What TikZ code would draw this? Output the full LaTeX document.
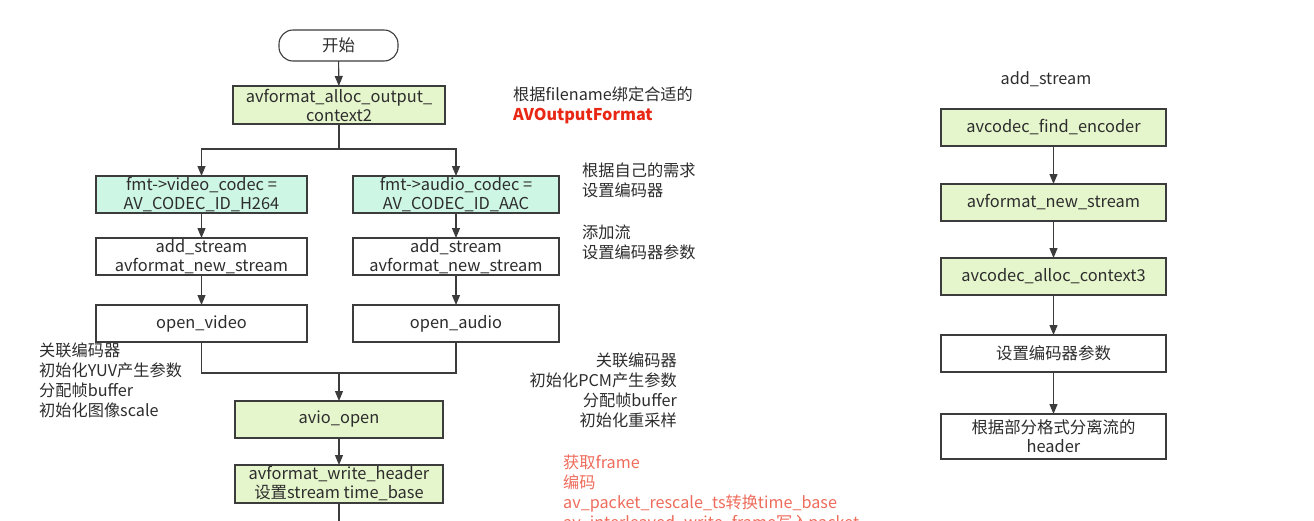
\documentclass[tikz,border=0pt]{standalone}
\usepackage{fontspec}
\setmainfont{Noto Sans CJK SC}
\usetikzlibrary{arrows.meta}
\definecolor{boxgreen}{RGB}{230,246,204}
\definecolor{boxmint}{RGB}{206,246,228}
\definecolor{edge}{RGB}{60,60,60}
\definecolor{txt}{RGB}{45,45,45}
\definecolor{redtxt}{RGB}{232,40,20}
\definecolor{salmon}{RGB}{238,108,92}
\tikzset{
  base/.style={draw=edge, line width=1.1pt, inner sep=0pt, outer sep=0pt, align=center,
    text=txt, font=\fontsize{16.4}{19}\selectfont},
  gbox/.style={base, fill=boxgreen},
  mbox/.style={base, fill=boxmint},
  wbox/.style={base, fill=white},
  note/.style={inner sep=0pt, text=txt, font=\fontsize{16.2}{20}\selectfont},
  conn/.style={draw=edge, line width=1.1pt},
  arr/.style={conn, -{Triangle[length=10pt,width=8pt]}},
}
\begin{document}
\begin{tikzpicture}[x=1pt,y=-1pt]
\useasboundingbox (0,0) rectangle (1314,520);
\clip (0,0) rectangle (1314,520);
\fill[white] (0,0) rectangle (1314,520);

% left flow
\node[wbox, rounded corners=14pt, minimum width=119pt, minimum height=31pt] (start) at (338.5,45.5) {开始};
\node[gbox, minimum width=212pt, minimum height=38pt] (alloc) at (339,105) {avformat\_alloc\_output\_\\context2};
\node[mbox, minimum width=211pt, minimum height=37pt] (vcodec) at (201.5,194.5) {fmt->video\_codec =\\AV\_CODEC\_ID\_H264};
\node[mbox, minimum width=206pt, minimum height=37pt] (acodec) at (456,194.5) {fmt->audio\_codec =\\AV\_CODEC\_ID\_AAC};
\node[wbox, minimum width=211pt, minimum height=37pt] (vadd) at (201.5,256.5) {add\_stream\\avformat\_new\_stream};
\node[wbox, minimum width=206pt, minimum height=37pt] (aadd) at (456,256.5) {add\_stream\\avformat\_new\_stream};
\node[wbox, minimum width=211pt, minimum height=37pt] (vopen) at (201.5,323.5) {open\_video};
\node[wbox, minimum width=206pt, minimum height=37pt] (aopen) at (456,323.5) {open\_audio};
\node[gbox, minimum width=208pt, minimum height=37pt] (avio) at (339,419.5) {avio\_open};
\node[gbox, minimum width=208pt, minimum height=38pt] (header) at (339,484) {avformat\_write\_header\\设置stream time\_base};

\coordinate (split) at (339,149);
\coordinate (join) at (339,373);
\coordinate (tail) at (339,530);

\draw[arr] (start) -- (alloc);
\draw[conn] (alloc) -- (split);
\draw[arr] (split) -| (vcodec);
\draw[arr] (split) -| (acodec);
\draw[arr] (vcodec) -- (vadd);
\draw[arr] (acodec) -- (aadd);
\draw[arr] (vadd) -- (vopen);
\draw[arr] (aadd) -- (aopen);
\draw[conn] (vopen) |- (join);
\draw[conn] (aopen) |- (join);
\draw[arr] (join) -- (avio);
\draw[arr] (avio) -- (header);
\draw[conn] (header) -- (tail);

% notes
\node[note, anchor=north west, align=left] (n1) at (513,87) {根据filename绑定合适的\\\textcolor{redtxt}{\bfseries AVOutputFormat}};
\node[note, anchor=north west, align=left] (n2) at (582,163) {根据自己的需求\\设置编码器};
\node[note, anchor=north west, align=left] (n3) at (582,225) {添加流\\设置编码器参数};
\node[note, anchor=north west, align=left] (n4) at (39,343) {关联编码器\\初始化YUV产生参数\\分配帧buffer\\初始化图像scale};
\node[note, anchor=north east, align=right] (n5) at (677,353) {关联编码器\\初始化PCM产生参数\\分配帧buffer\\初始化重采样};
\node[note, anchor=north west, align=left, text=salmon] (n6) at (563,455) {获取frame\\编码\\av\_packet\_rescale\_ts转换time\_base\\av\_interleaved\_write\_frame写入packet};

% right column
\node[note] (title) at (1046,79) {add\_stream};
\node[gbox, minimum width=225pt, minimum height=37pt] (r1) at (1053.5,127.5) {avcodec\_find\_encoder};
\node[gbox, minimum width=225pt, minimum height=37pt] (r2) at (1053.5,202.5) {avformat\_new\_stream};
\node[gbox, minimum width=225pt, minimum height=37pt] (r3) at (1053.5,276.5) {avcodec\_alloc\_context3};
\node[wbox, minimum width=225pt, minimum height=37pt] (r4) at (1053.5,353.5) {设置编码器参数};
\node[wbox, minimum width=225pt, minimum height=45pt] (r5) at (1053.5,436.5) {根据部分格式分离流的\\header};
\draw[arr] (r1) -- (r2);
\draw[arr] (r2) -- (r3);
\draw[arr] (r3) -- (r4);
\draw[arr] (r4) -- (r5);
\end{tikzpicture}
\end{document}
